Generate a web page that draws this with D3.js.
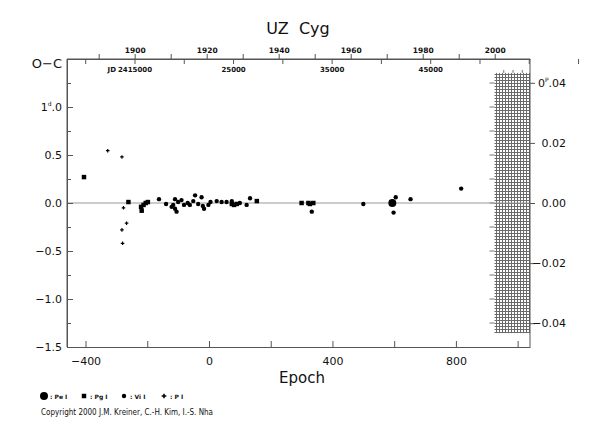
<!DOCTYPE html>
<html>
<head>
<meta charset="utf-8">
<script src="https://cdn.jsdelivr.net/npm/d3@7"></script>
<style>
  body { margin: 0; background: #fff; }
  text { font-family: "DejaVu Sans", sans-serif; fill: #111; }
</style>
</head>
<body>
<script>
// O-C data for UZ Cyg (epoch, O-C in days)
var peEpoch = [594];
var peOC = [0.0];

var pgEpoch = [-405, -261, -220, -218, -212, -205, -198, 74, 81, 90, 155, 300, 322, 327, 338];
var pgOC = [0.27, 0.01, -0.04, -0.08, -0.02, 0.0, 0.01, -0.01, -0.02, -0.01, 0.02, 0.0, 0.0, -0.01, 0.0];

var viEpoch = [-162, -139, -121, -116, -110, -110, -105, -100, -89, -81, -69, -62, -51, -45, -35, -24, -20, -16, -2, 5, 25, 41, 57, 74, 100, 122, 133, 333, 500, 598, 605, 653, 817];
var viOC = [0.04, -0.01, -0.04, -0.02, 0.04, -0.06, -0.09, 0.01, 0.03, -0.02, 0.0, -0.02, 0.02, 0.08, -0.01, 0.06, -0.03, -0.06, -0.02, 0.01, 0.02, 0.01, 0.01, 0.02, 0.0, -0.02, 0.05, -0.09, -0.01, -0.10, 0.06, 0.04, 0.15];

var pEpoch = [-328, -282, -277, -267, -282, -280];
var pOC = [0.545, 0.48, -0.05, -0.21, -0.28, -0.42];

// axis settings
var period = 31.3;            // days, converts O-C to phase on the right axis
var epochTicks = d3.range(-400, 1001, 200);
var ocTicks = d3.range(-1.5, 1.51, 0.25);
var ocLabels = [-1.5, -1.0, -0.5, 0.0, 0.5, 1.0];
var phaseTicks = [-0.04, -0.02, 0.0, 0.02, 0.04];
var yearTicks = d3.range(1890, 2001, 10);
var yearLabels = [1900, 1920, 1940, 1960, 1980, 2000];
var jdTicks = d3.range(2410000, 2460001, 5000);
var jdLabels = [2415000, 2425000, 2435000, 2445000];
var hatchEpoch = [925, 1040];
var hatchOC = [-1.355, 1.355];

var legendItems = [
  {type: "pe", label: ": Pe I"},
  {type: "pg", label: ": Pg I"},
  {type: "vi", label: ": Vi I"},
  {type: "p", label: ": P I"}
];

var svgWidth = 590;
var svgHeight = 425;
var margin = {top: 59, right: 60, bottom: 78, left: 67};
var chartWidth = svgWidth - margin.left - margin.right;   // 463
var chartHeight = svgHeight - margin.top - margin.bottom; // 288

var svg = d3.select("body")
  .append("svg")
  .attr("width", svgWidth)
  .attr("height", svgHeight);

var defs = svg.append("defs");
var pat = defs.append("pattern")
  .attr("id", "hatch")
  .attr("patternUnits", "userSpaceOnUse")
  .attr("width", 3)
  .attr("height", 3);
pat.append("rect").attr("width", 3).attr("height", 3).attr("fill", "#fff");
pat.append("line").attr("x1", 0.5).attr("x2", 0.5).attr("y1", 0).attr("y2", 3)
  .attr("stroke", "#6a6a6a").attr("stroke-width", 1);
pat.append("line").attr("x1", 0).attr("x2", 3).attr("y1", 0.5).attr("y2", 0.5)
  .attr("stroke", "#6a6a6a").attr("stroke-width", 1);

var chartGroup = svg.append("g")
  .attr("transform", `translate(${margin.left}, ${margin.top})`);

var xScale = d3.scaleLinear().domain([-460, 1040]).range([0, chartWidth]);
var yScale = d3.scaleLinear().domain([-1.5, 1.5]).range([chartHeight, 0]);
var yPhase = d3.scaleLinear().domain([-1.5 / period, 1.5 / period]).range([chartHeight, 0]);

// calendar scales for the top axis
var yearScale = d3.scaleLinear().domain([1881.2, 2009.8]).range([0, chartWidth]);
function jdOf(yr) { return 2415020 + (yr - 1900) * 365.25; }
var jdScale = d3.scaleLinear().domain([jdOf(1881.2), jdOf(2009.8)]).range([0, chartWidth]);

var frameColor = "#555";

// hatched region
chartGroup.append("rect")
  .attr("x", xScale(hatchEpoch[0]))
  .attr("y", yScale(hatchOC[1]))
  .attr("width", xScale(hatchEpoch[1]) - xScale(hatchEpoch[0]))
  .attr("height", yScale(hatchOC[0]) - yScale(hatchOC[1]))
  .attr("fill", "url(#hatch)");

// small ticks on the hatch edges
chartGroup.append("g").selectAll("line")
  .data(ocTicks.filter(d => Math.abs(d) < 1.35))
  .join("line")
  .attr("x1", xScale(hatchEpoch[0]) - 5)
  .attr("x2", xScale(hatchEpoch[0]))
  .attr("y1", d => yScale(d))
  .attr("y2", d => yScale(d))
  .attr("stroke", "#777");
chartGroup.append("g").selectAll("line")
  .data(d3.range(955, 1040, 30))
  .join("line")
  .attr("x1", d => xScale(d))
  .attr("x2", d => xScale(d))
  .attr("y1", yScale(hatchOC[1]) - 3)
  .attr("y2", yScale(hatchOC[1]))
  .attr("stroke", "#777");

// zero line
chartGroup.append("line")
  .attr("x1", 0)
  .attr("x2", chartWidth)
  .attr("y1", yScale(0))
  .attr("y2", yScale(0))
  .attr("stroke", "#999")
  .attr("stroke-width", 1.2);

// axes
function styleAxis(g) {
  g.select(".domain").attr("stroke", frameColor);
  g.selectAll(".tick line").attr("stroke", frameColor);
}

// puts a small raised unit letter before the decimal point of a tick label
function addUnitMark(textSel, unit) {
  var label = textSel.text();
  var parts = label.split(".");
  textSel.text(parts[0]);
  textSel.append("tspan").attr("font-size", 6).attr("dy", -5).text(unit);
  textSel.append("tspan").attr("dy", 5).text("." + parts[1]);
}

// bottom
chartGroup.append("g")
  .attr("transform", "translate(0, " + chartHeight + ")")
  .call(d3.axisBottom(xScale).tickValues(epochTicks).tickSizeInner(-6).tickSizeOuter(0).tickPadding(10)
    .tickFormat(d => d % 400 === 0 ? d3.format("d")(d) : ""))
  .call(styleAxis)
  .selectAll("text").attr("font-size", 11).attr("font-family", "DejaVu Sans");

// left: minor then major
chartGroup.append("g")
  .call(d3.axisLeft(yScale).tickValues(ocTicks).tickSizeInner(-4).tickSizeOuter(0).tickFormat(""))
  .call(styleAxis);
var leftAxis = chartGroup.append("g")
  .call(d3.axisLeft(yScale).tickValues(ocLabels).tickSizeInner(-6).tickSizeOuter(0).tickPadding(5)
    .tickFormat(d3.format(".1f")))
  .call(styleAxis);
leftAxis.selectAll("text").attr("font-size", 11).attr("font-family", "DejaVu Sans");
leftAxis.selectAll(".tick text").filter(d => d === 1.0).each(function() {
  addUnitMark(d3.select(this), "d");
});
leftAxis.select(".domain").remove();
chartGroup.append("line")
  .attr("x1", 0).attr("x2", 0).attr("y1", 0).attr("y2", chartHeight)
  .attr("stroke", frameColor);

// right
var rightAxis = chartGroup.append("g")
  .attr("transform", `translate(${chartWidth}, 0)`)
  .call(d3.axisRight(yPhase).tickValues(phaseTicks).tickSizeInner(5).tickSizeOuter(0)
    .tickFormat(d3.format(".2f")))
  .call(styleAxis);
rightAxis.selectAll("text")
  .attr("font-size", 11)
  .attr("font-family", "DejaVu Sans")
  .attr("text-anchor", "end")
  .attr("x", 36);
rightAxis.selectAll(".tick text").filter(d => d === 0.04).each(function() {
  addUnitMark(d3.select(this), "P");
});
rightAxis.select(".domain").remove();
chartGroup.append("line")
  .attr("x1", chartWidth).attr("x2", chartWidth).attr("y1", 0).attr("y2", chartHeight)
  .attr("stroke", frameColor);

// top: years above, JD below
var yearAxis = chartGroup.append("g")
  .call(d3.axisTop(yearScale).tickValues(yearTicks).tickSizeInner(5).tickSizeOuter(0).tickPadding(1)
    .tickFormat(d => yearLabels.indexOf(d) >= 0 ? d : ""))
  .call(styleAxis);
yearAxis.selectAll("text")
  .attr("font-size", 7.5)
  .attr("font-weight", "bold")
  .attr("font-family", "Liberation Sans");

var jdAxis = chartGroup.append("g")
  .call(d3.axisBottom(jdScale).tickValues(jdTicks).tickSizeInner(5).tickSizeOuter(0).tickPadding(3)
    .tickFormat(d => d === 2415000 ? "2415000" : (jdLabels.indexOf(d) >= 0 ? String(d - 2400000) : "")))
  .call(styleAxis);
jdAxis.selectAll("text")
  .attr("font-size", 7)
  .attr("font-weight", "bold")
  .attr("font-family", "Liberation Sans");
jdAxis.select(".domain").remove();
chartGroup.append("line")
  .attr("x1", 0).attr("x2", chartWidth).attr("y1", 0).attr("y2", 0)
  .attr("stroke", frameColor);

chartGroup.append("text")
  .attr("x", jdScale(2415000) - 18.5)
  .attr("y", 13)
  .attr("text-anchor", "end")
  .attr("font-size", 7)
  .attr("font-weight", "bold")
  .attr("font-family", "Liberation Sans")
  .text("JD");

// points
function symbolPath(type) {
  if (type === "pe") return d3.symbol(d3.symbolCircle, 50)();
  if (type === "pg") return d3.symbol(d3.symbolSquare, 20)();
  if (type === "vi") return d3.symbol(d3.symbolCircle, 15)();
  return d3.symbol(d3.symbolCross, 7)();
}

function plotSeries(epochs, ocs, type) {
  var pts = epochs.map((e, i) => ({epoch: e, oc: ocs[i]}));
  chartGroup.append("g").selectAll("path")
    .data(pts)
    .join("path")
    .attr("d", symbolPath(type))
    .attr("transform", d => `translate(${xScale(d.epoch)}, ${yScale(d.oc)})`)
    .attr("fill", "#000");
}
plotSeries(viEpoch, viOC, "vi");
plotSeries(pgEpoch, pgOC, "pg");
plotSeries(pEpoch, pOC, "p");
plotSeries(peEpoch, peOC, "pe");

// titles
svg.append("text")
  .attr("x", 298)
  .attr("y", 34)
  .attr("text-anchor", "middle")
  .attr("font-size", 16)
  .style("white-space", "pre")
  .text("UZ  Cyg");

svg.append("text")
  .attr("x", 62)
  .attr("y", 68)
  .attr("text-anchor", "end")
  .attr("font-size", 13)
  .text("O\u2212C");

svg.append("text")
  .attr("x", 302)
  .attr("y", 383)
  .attr("text-anchor", "middle")
  .attr("font-size", 15)
  .text("Epoch");

// legend
var legend = svg.append("g").attr("transform", "translate(44, 396)");
var legendItem = legend.selectAll("g")
  .data(legendItems)
  .join("g")
  .attr("transform", (d, i) => `translate(${i * 40}, 0)`);
legendItem.append("path")
  .attr("d", d => d.type === "p" ? d3.symbol(d3.symbolCross, 12)() : symbolPath(d.type))
  .attr("fill", "#000");
legendItem.append("text")
  .attr("x", 6)
  .attr("y", 2.5)
  .attr("font-size", 6)
  .attr("font-weight", "bold")
  .attr("font-family", "Liberation Sans")
  .text(d => d.label);

svg.append("text")
  .attr("x", 41)
  .attr("y", 415)
  .attr("font-size", 8)
  .attr("font-family", "Liberation Sans")
  .attr("textLength", 172)
  .attr("lengthAdjust", "spacingAndGlyphs")
  .text("Copyright 2000 J.M. Kreiner, C.-H. Kim, I.-S. Nha");
</script>
</body>
</html>
